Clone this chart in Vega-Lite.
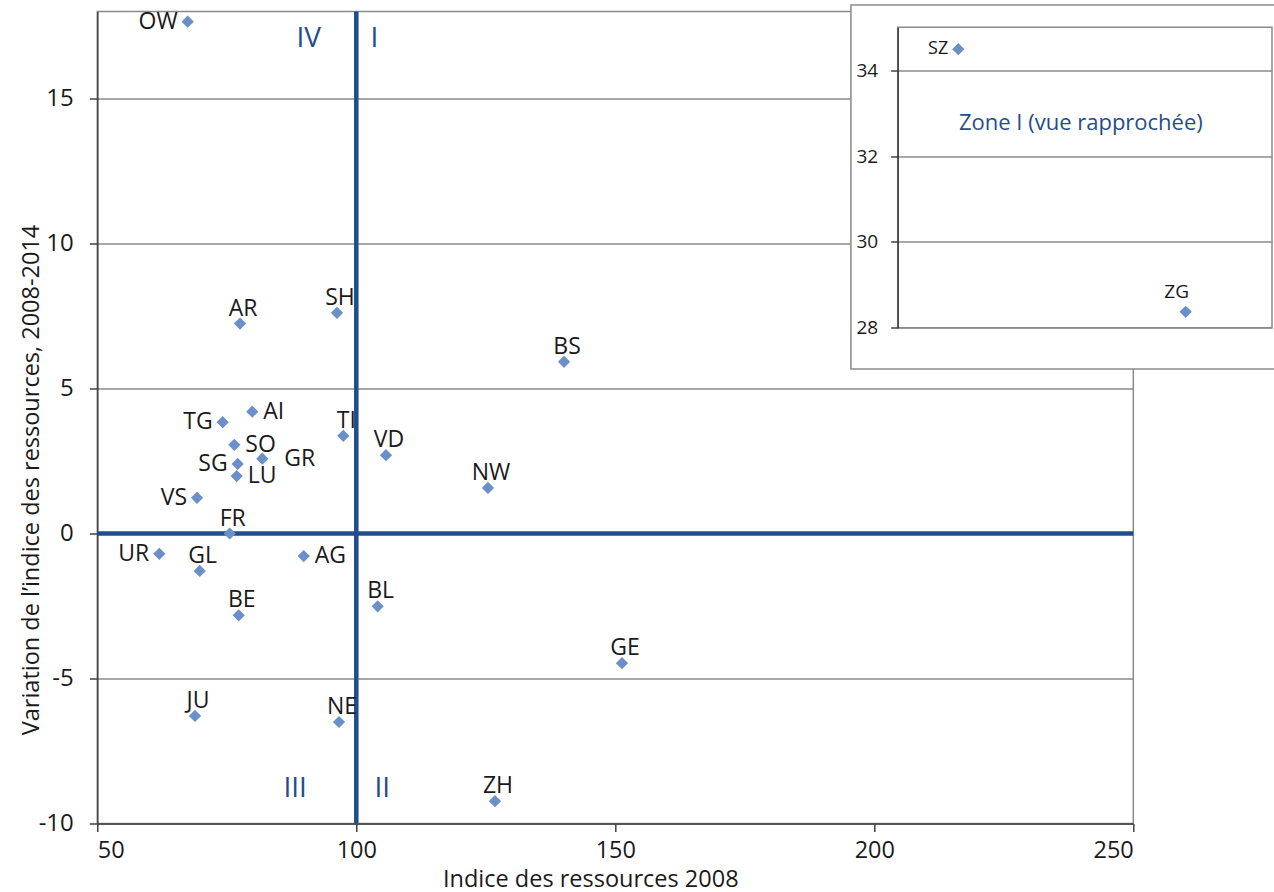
{
  "$schema": "https://vega.github.io/schema/vega-lite/v6.json",
  "width": 1036,
  "height": 812,
  "autosize": {"type": "none"},
  "padding": {"left": 97.3, "top": 11.5, "right": 140.7, "bottom": 68.5},
  "config": {
    "font": "Open Sans",
    "view": {"stroke": "#8a8a8a", "strokeWidth": 1.5}
  },
  "datasets": {
    "cantons": [
      {"c": "OW", "x": 67.45, "y": 17.65},
      {"c": "AR", "x": 77.55, "y": 7.24},
      {"c": "SH", "x": 96.27, "y": 7.61},
      {"c": "BS", "x": 140.1, "y": 5.92},
      {"c": "AI", "x": 79.92, "y": 4.2},
      {"c": "TG", "x": 74.21, "y": 3.84},
      {"c": "TI", "x": 97.49, "y": 3.37},
      {"c": "SO", "x": 76.45, "y": 3.06},
      {"c": "VD", "x": 105.73, "y": 2.7},
      {"c": "GR", "x": 81.85, "y": 2.58},
      {"c": "SG", "x": 77.1, "y": 2.4},
      {"c": "LU", "x": 76.91, "y": 1.98},
      {"c": "NW", "x": 125.42, "y": 1.57},
      {"c": "VS", "x": 69.25, "y": 1.23},
      {"c": "FR", "x": 75.56, "y": 0.0},
      {"c": "UR", "x": 61.97, "y": -0.7},
      {"c": "AG", "x": 89.85, "y": -0.78},
      {"c": "GL", "x": 69.77, "y": -1.29},
      {"c": "BL", "x": 104.13, "y": -2.51},
      {"c": "BE", "x": 77.3, "y": -2.82},
      {"c": "GE", "x": 151.29, "y": -4.47},
      {"c": "JU", "x": 68.86, "y": -6.29},
      {"c": "NE", "x": 96.66, "y": -6.5},
      {"c": "ZH", "x": 126.77, "y": -9.23}
    ],
    "zoomed": [
      {"c": "SZ", "x": 115.9, "y": 34.49},
      {"c": "ZG", "x": 213.1, "y": 28.37}
    ],
    "quadrants": [
      {"q": "IV", "x": 90.8, "y": 17.05},
      {"q": "I", "x": 103.5, "y": 17.05},
      {"q": "III", "x": 88.2, "y": -8.81},
      {"q": "II", "x": 105.0, "y": -8.81}
    ]
  },
  "layer": [
    {
      "layer": [
        {
          "data": {"values": [{}]},
          "mark": {"type": "rule", "color": "#1f4e8c", "strokeWidth": 4.5},
          "encoding": {
            "y": {
              "datum": 0,
              "type": "quantitative",
              "scale": {"domain": [-10, 18], "nice": false, "zero": false},
              "axis": {
                "title": "Variation de l\u2019indice des ressources, 2008-2014",
                "values": [-10, -5, 0, 5, 10, 15],
                "labelExpr": "datum.value < 0 ? '-' + abs(datum.value) : '' + datum.value",
                "grid": true,
                "gridColor": "#8a8a8a",
                "gridWidth": 1.5,
                "domainColor": "#404040",
                "domainWidth": 1.5,
                "tickColor": "#404040",
                "tickWidth": 1.5,
                "tickSize": 8,
                "labelFont": "Open Sans",
                "labelFontSize": 24,
                "labelColor": "#1a1a1a",
                "labelPadding": 16,
                "titleFont": "Open Sans",
                "titleFontSize": 23.5,
                "titleFontWeight": "normal",
                "titleColor": "#1a1a1a",
                "titleAngle": 270,
                "titleBaseline": "alphabetic",
                "titleX": -58.5,
                "titleY": 468
              }
            }
          }
        },
        {
          "data": {"values": [{}]},
          "mark": {"type": "rule", "color": "#1f4e8c", "strokeWidth": 4.5},
          "encoding": {
            "x": {
              "datum": 100,
              "type": "quantitative",
              "scale": {"domain": [50, 250], "nice": false, "zero": false},
              "axis": {
                "title": "Indice des ressources 2008",
                "values": [50, 100, 150, 200, 250],
                "grid": false,
                "domainColor": "#404040",
                "domainWidth": 1.5,
                "tickColor": "#404040",
                "tickWidth": 1.5,
                "tickSize": 8,
                "labelFont": "Open Sans",
                "labelFontSize": 23.5,
                "labelColor": "#1a1a1a",
                "labelPadding": 6.5,
                "titleFont": "Open Sans",
                "titleFontSize": 23.5,
                "titleFontWeight": "normal",
                "titleColor": "#1a1a1a",
                "titleX": 493,
                "titleY": 43.5
              }
            }
          }
        },
        {
          "data": {"name": "cantons"},
          "mark": {"type": "point", "shape": "diamond", "filled": true, "size": 150, "color": "#6b8fc9", "opacity": 1},
          "encoding": {
            "x": {"field": "x", "type": "quantitative"},
            "y": {"field": "y", "type": "quantitative"}
          }
        },
        {
          "data": {"name": "cantons"},
          "transform": [{"filter": {"field": "c", "oneOf": ["AR", "SH", "BS", "NW", "TI", "VD", "FR", "BE", "BL", "GE", "JU", "NE", "ZH", "GL"]}}],
          "mark": {"type": "text", "font": "Open Sans", "fontSize": 23, "color": "#1a1a1a", "align": "center", "baseline": "middle", "dy": -15, "dx": 3},
          "encoding": {
            "x": {"field": "x", "type": "quantitative"},
            "y": {"field": "y", "type": "quantitative"},
            "text": {"field": "c", "type": "nominal"}
          }
        },
        {
          "data": {"name": "cantons"},
          "transform": [{"filter": {"field": "c", "oneOf": ["OW", "TG", "SG", "VS", "UR"]}}],
          "mark": {"type": "text", "font": "Open Sans", "fontSize": 23, "color": "#1a1a1a", "align": "right", "baseline": "middle", "dx": -10},
          "encoding": {
            "x": {"field": "x", "type": "quantitative"},
            "y": {"field": "y", "type": "quantitative"},
            "text": {"field": "c", "type": "nominal"}
          }
        },
        {
          "data": {"name": "cantons"},
          "transform": [{"filter": {"field": "c", "oneOf": ["AI", "SO", "LU", "AG"]}}],
          "mark": {"type": "text", "font": "Open Sans", "fontSize": 23, "color": "#1a1a1a", "align": "left", "baseline": "middle", "dx": 11},
          "encoding": {
            "x": {"field": "x", "type": "quantitative"},
            "y": {"field": "y", "type": "quantitative"},
            "text": {"field": "c", "type": "nominal"}
          }
        },
        {
          "data": {"name": "cantons"},
          "transform": [{"filter": {"field": "c", "oneOf": ["GR"]}}],
          "mark": {"type": "text", "font": "Open Sans", "fontSize": 23, "color": "#1a1a1a", "align": "left", "baseline": "middle", "dx": 22},
          "encoding": {
            "x": {"field": "x", "type": "quantitative"},
            "y": {"field": "y", "type": "quantitative"},
            "text": {"field": "c", "type": "nominal"}
          }
        },
        {
          "data": {"name": "quadrants"},
          "mark": {"type": "text", "font": "Open Sans", "fontSize": 28, "color": "#1f4e8c", "align": "center", "baseline": "middle"},
          "encoding": {
            "x": {"field": "x", "type": "quantitative"},
            "y": {"field": "y", "type": "quantitative"},
            "text": {"field": "q", "type": "nominal"}
          }
        }
      ]
    },
    {
      "layer": [
        {
          "data": {"values": [{}]},
          "mark": {"type": "rect", "fill": "white", "stroke": "#8a8a8a", "strokeWidth": 1.5, "clip": false},
          "encoding": {
            "x": {"datum": 70, "type": "quantitative", "scale": {"domain": [90, 250], "range": [800.4, 1174.7], "nice": false, "zero": false}, "axis": null},
            "x2": {"datum": 252},
            "y": {
              "datum": 35.52,
              "type": "quantitative",
              "scale": {"domain": [28, 35], "range": [316.2, 15.8], "nice": false, "zero": false},
              "axis": {
                "orient": "left",
                "offset": -800.4,
                "title": null,
                "values": [28, 30, 32, 34],
                "format": "d",
                "grid": true,
                "gridColor": "#8a8a8a",
                "gridWidth": 1.5,
                "domainColor": "#404040",
                "domainWidth": 1.5,
                "tickColor": "#404040",
                "tickWidth": 1.5,
                "tickSize": 7,
                "labelFont": "Open Sans",
                "labelFontSize": 19,
                "labelColor": "#1a1a1a",
                "labelPadding": 13,
                "zindex": 1
              }
            },
            "y2": {"datum": 27.04}
          }
        },
        {
          "data": {"values": [{}]},
          "mark": {"type": "rect", "fill": "white", "fillOpacity": 0, "stroke": "#8a8a8a", "strokeWidth": 1.5, "clip": false},
          "encoding": {
            "x": {"datum": 90, "type": "quantitative", "axis": null},
            "x2": {"datum": 250},
            "y": {"datum": 35, "type": "quantitative"},
            "y2": {"datum": 28}
          }
        },
        {
          "data": {"name": "zoomed"},
          "mark": {"type": "point", "shape": "diamond", "filled": true, "size": 150, "color": "#6b8fc9", "opacity": 1},
          "encoding": {
            "x": {"field": "x", "type": "quantitative", "axis": null},
            "y": {"field": "y", "type": "quantitative"}
          }
        },
        {
          "data": {"name": "zoomed"},
          "transform": [{"filter": {"field": "c", "oneOf": ["SZ"]}}],
          "mark": {"type": "text", "font": "Open Sans", "fontSize": 18, "color": "#1a1a1a", "align": "right", "baseline": "middle", "dx": -10},
          "encoding": {
            "x": {"field": "x", "type": "quantitative", "axis": null},
            "y": {"field": "y", "type": "quantitative"},
            "text": {"field": "c", "type": "nominal"}
          }
        },
        {
          "data": {"name": "zoomed"},
          "transform": [{"filter": {"field": "c", "oneOf": ["ZG"]}}],
          "mark": {"type": "text", "font": "Open Sans", "fontSize": 19, "color": "#1a1a1a", "align": "center", "baseline": "middle", "dx": -9, "dy": -20},
          "encoding": {
            "x": {"field": "x", "type": "quantitative", "axis": null},
            "y": {"field": "y", "type": "quantitative"},
            "text": {"field": "c", "type": "nominal"}
          }
        },
        {
          "data": {"values": [{"t": "Zone I (vue rapproch\u00e9e)"}]},
          "mark": {"type": "text", "font": "Open Sans", "fontSize": 22, "color": "#1f4e8c", "align": "center", "baseline": "middle"},
          "encoding": {
            "x": {"datum": 168.3, "type": "quantitative", "axis": null},
            "y": {"datum": 32.76, "type": "quantitative"},
            "text": {"field": "t", "type": "nominal"}
          }
        }
      ]
    }
  ],
  "resolve": {
    "scale": {"x": "independent", "y": "independent"},
    "axis": {"x": "independent", "y": "independent"}
  }
}
